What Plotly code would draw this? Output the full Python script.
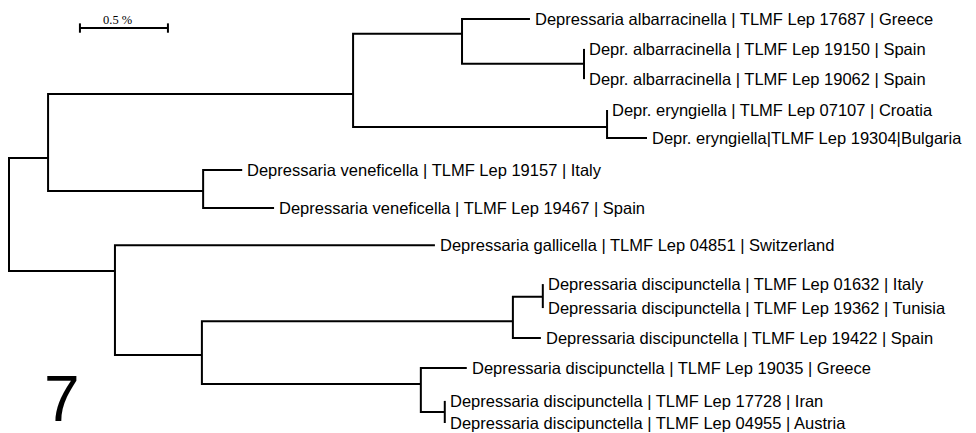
import plotly.graph_objects as go

# ---- tree data (branch lengths in % divergence) ----
node_names = ["root", "A", "B", "C", "L1", "D", "L2", "L3", "E", "L4", "L5",
              "F", "L6", "L7", "G", "L8", "H", "I", "J", "L9", "L10", "L11",
              "K", "L12", "L", "L13", "L14"]
node_parent = [None, "root", "A", "B", "C", "C", "D", "D", "B", "E", "E",
               "A", "F", "F", "root", "G", "G", "H", "I", "J", "J", "I",
               "H", "K", "K", "L", "L"]
branch_length = [0.0, 0.222, 1.733, 0.619, 0.386, 0.693, 0.0, 0.0, 1.443, 0.0, 0.227,
                 0.881, 0.222, 0.403, 0.602, 1.818, 0.494, 1.767, 0.170, 0.0, 0.0, 0.159,
                 1.244, 0.261, 0.136, 0.0, 0.0]
node_row = [7.26, 5.46, 3.41, 1.47, 1.00, 2.44, 1.96, 2.93, 4.47, 3.92, 4.82,
            6.52, 5.85, 7.07, 9.09, 8.26, 11.79, 10.70, 9.92, 9.51, 10.28, 11.24,
            12.72, 12.20, 13.62, 13.26, 13.97]

leaf_names = ["L1", "L2", "L3", "L4", "L5", "L6", "L7", "L8", "L9", "L10", "L11", "L12", "L13", "L14"]
leaf_labels = [
    "Depressaria albarracinella | TLMF Lep 17687 | Greece",
    "Depr. albarracinella | TLMF Lep 19150 | Spain",
    "Depr. albarracinella | TLMF Lep 19062 | Spain",
    "Depr. eryngiella | TLMF Lep 07107 | Croatia",
    "Depr. eryngiella|TLMF Lep 19304|Bulgaria",
    "Depressaria veneficella | TLMF Lep 19157 | Italy",
    "Depressaria veneficella | TLMF Lep 19467 | Spain",
    "Depressaria gallicella | TLMF Lep 04851 | Switzerland",
    "Depressaria discipunctella | TLMF Lep 01632 | Italy",
    "Depressaria discipunctella | TLMF Lep 19362 | Tunisia",
    "Depressaria discipunctella | TLMF Lep 19422 | Spain",
    "Depressaria discipunctella | TLMF Lep 19035 | Greece",
    "Depressaria discipunctella | TLMF Lep 17728 | Iran",
    "Depressaria discipunctella | TLMF Lep 04955 | Austria",
]

scale_value = 0.5        # scale bar length (%)
scale_label = "0.5 %"
figure_number = "7"

# ---- compute node x positions ----
idx = {n: i for i, n in enumerate(node_names)}
node_x = {}
def get_x(n):
    if n in node_x:
        return node_x[n]
    i = idx[n]
    p = node_parent[i]
    x = branch_length[i] + (get_x(p) if p is not None else 0.0)
    node_x[n] = x
    return x
for n in node_names:
    get_x(n)
node_y = {n: node_row[idx[n]] for n in node_names}

children = {}
for n, p in zip(node_names, node_parent):
    if p is not None:
        children.setdefault(p, []).append(n)

xs, ys = [], []
for n, ch in children.items():
    c1, c2 = ch[0], ch[-1]
    xs += [node_x[c1], node_x[n], node_x[n], node_x[c2], None]
    ys += [node_y[c1], node_y[c1], node_y[c2], node_y[c2], None]

fig = go.Figure()
fig.add_trace(go.Scatter(x=xs, y=ys, mode="lines",
                         line=dict(color="black", width=2),
                         hoverinfo="skip", showlegend=False))

for n, lab in zip(leaf_names, leaf_labels):
    fig.add_annotation(x=node_x[n], y=node_y[n], text=lab, showarrow=False,
                       xanchor="left", yanchor="middle", xshift=3,
                       font=dict(family="Liberation Sans, Arial, sans-serif", size=16.5, color="black"))

# scale bar
sb_x0 = 0.403
sb_y = 1.29
fig.add_trace(go.Scatter(x=[sb_x0, sb_x0 + scale_value], y=[sb_y, sb_y], mode="lines",
                         line=dict(color="black", width=2), hoverinfo="skip", showlegend=False))
for xx in [sb_x0, sb_x0 + scale_value]:
    fig.add_trace(go.Scatter(x=[xx, xx], y=[sb_y - 0.15, sb_y + 0.15], mode="lines",
                             line=dict(color="black", width=2), hoverinfo="skip", showlegend=False))
fig.add_annotation(x=sb_x0 + scale_value / 2 - 0.035, y=sb_y, text=scale_label, showarrow=False,
                   xanchor="center", yanchor="bottom", yshift=-1,
                   font=dict(family="Liberation Serif, Times New Roman, serif", size=12.5, color="black"))

W, H = 968, 425   # page body has an 8px margin
fig.add_annotation(x=54 / W, y=1 - 391 / H, xref="paper", yref="paper", text=figure_number,
                   showarrow=False, xanchor="center", yanchor="middle",
                   height=52, valign="middle", borderpad=0,
                   font=dict(family="Liberation Sans, Arial, sans-serif", size=64, color="black"))

fig.update_xaxes(range=[(8 - 9) / 176, (976 - 9) / 176], visible=False, fixedrange=True)
fig.update_yaxes(range=[1 + 414 / 31.15, 1 + (8 - 19) / 31.15], visible=False, fixedrange=True)
fig.update_layout(width=W, height=H, margin=dict(l=0, r=0, t=0, b=0),
                  plot_bgcolor="white", paper_bgcolor="white")

fig.write_html("out.html")
